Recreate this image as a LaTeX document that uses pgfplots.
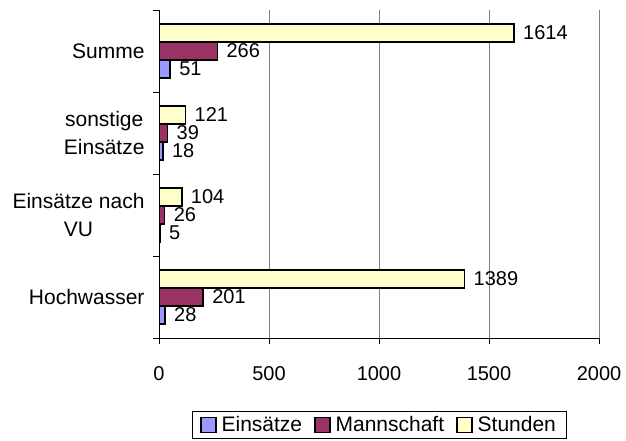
\documentclass[border=0pt]{standalone}
\usepackage{fontspec}
\setmainfont{Liberation Sans}
\usepackage{pgfplots}
\pgfplotsset{compat=1.18}
\definecolor{cE}{HTML}{9999FF}
\definecolor{cM}{HTML}{993366}
\definecolor{cS}{HTML}{FFFFCC}
\definecolor{gridc}{HTML}{808080}
\newcommand\f{\fontsize{20}{27}\selectfont}
\newcommand\ft{\fontsize{21}{28}\selectfont}
\begin{document}
\begin{tikzpicture}
\path[use as bounding box] (0,0) rectangle (626pt,441pt);
\begin{axis}[
  at={(159pt,103pt)}, anchor=south west,
  scale only axis, width=440pt, height=328pt,
  xmin=0, xmax=2000, ymin=-0.5, ymax=3.5,
  axis lines=left, axis line style={-, line width=0.8pt, black},
  xtick={0,500,1000,1500,2000},
  xmajorgrids, grid style={gridc, line width=0.8pt},
  ytick={-0.5,0.5,1.5,2.5,3.5}, yticklabels={},
  extra y ticks={0,1,2,3},
  extra y tick labels={Hochwasser,{Einsätze nach\\VU},{sonstige\\Einsätze},Summe},
  extra y tick style={major tick length=0pt, yticklabel style={align=center, font=\ft, xshift=-11pt}},
  tick align=outside, major tick length=6pt,
  tick style={black, line width=0.8pt},
  ticklabel style={font=\f},
  xticklabel style={yshift=-19pt},
  /pgf/number format/.cd, 1000 sep={}, assume math mode=true, /pgfplots/.cd,
  xbar, bar width=18pt,
  legend image code/.code={\draw[#1, line width=1.5pt] (0pt,-7.5pt) rectangle (15pt,7.5pt);},
  nodes near coords,
  nodes near coords style={font=\f, anchor=west, xshift=5pt},
  legend columns=-1,
  legend style={at={(0.5,0)}, anchor=north, yshift=-73pt, draw=black, line width=0.8pt,
    font=\ft, inner xsep=8pt, inner ysep=3pt,
    /tikz/every odd column/.append style={column sep=3pt},
    /tikz/every even column/.append style={column sep=10pt}},
  legend cell align=left,
]
\addplot[fill=cE, draw=black, line width=1.5pt, bar shift=-18pt] coordinates {(28,0) (5,1) (18,2) (51,3)};
\addplot[fill=cM, draw=black, line width=1.5pt, bar shift=0pt] coordinates {(201,0) (26,1) (39,2) (266,3)};
\addplot[fill=cS, draw=black, line width=1.5pt, bar shift=18pt] coordinates {(1389,0) (104,1) (121,2) (1614,3)};
\legend{Einsätze, Mannschaft, Stunden}
\end{axis}
\end{tikzpicture}
\end{document}
